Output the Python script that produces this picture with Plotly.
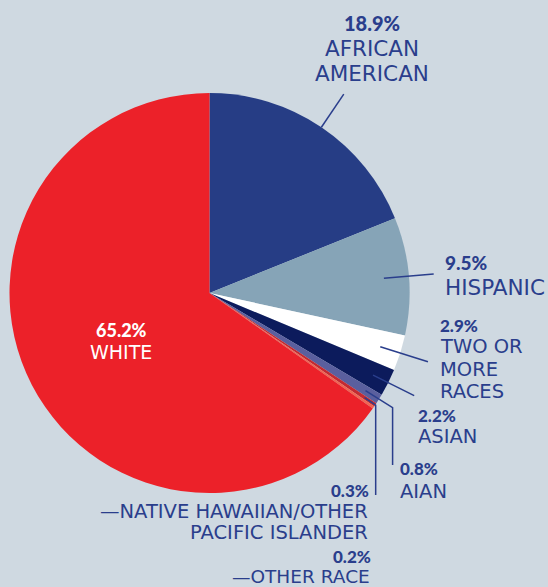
import math
import plotly.graph_objects as go

# --- data -------------------------------------------------------------
groups = ["AFRICAN AMERICAN", "HISPANIC", "TWO OR MORE RACES", "ASIAN", "AIAN",
          "NATIVE HAWAIIAN/OTHER PACIFIC ISLANDER", "OTHER RACE", "WHITE"]
shares = [18.9, 9.5, 2.9, 2.2, 0.8, 0.3, 0.2, 65.2]
slice_colors = ["#263d85", "#86a4b7", "#ffffff", "#0c1b5c", "#5a5f9e",
                "#c42a31", "#f26450", "#ec2129"]

W, H = 548, 587
BG = "#cfd9e1"
INK = "#2a3e8c"
NAME_FONT = "DejaVu Sans"
PCT_FONT = "Lato"

# pie geometry in pixels
CX, CY, R = 209.5, 293.0, 200.0

fig = go.Figure()
fig.add_trace(go.Pie(
    labels=groups, values=shares, sort=False, direction="clockwise", rotation=0,
    marker=dict(colors=slice_colors, line=dict(width=0)),
    textinfo="none", hoverinfo="label+percent", showlegend=False,
    domain=dict(x=[(CX - R) / W, (CX + R) / W],
                y=[(H - CY - R) / H, (H - CY + R) / H]),
))

# mid angle of each slice, degrees clockwise from 12 o'clock
total = sum(shares)
mid_angles = []
acc = 0.0
for v in shares:
    mid_angles.append((acc + v / 2) / total * 360)
    acc += v


def polar(angle, r):
    a = math.radians(angle)
    return CX + r * math.sin(a), CY - r * math.cos(a)


# leader lines: (slice index, inner radius, outer radius, vertical drop to y)
leaders = [
    (0, 200, 240, None),
    (1, 175, 225, None),
    (2, 179, 229, None),
    (3, 183, 229, None),
    (4, 184, 216, 465),
    (5, 187, 200.5, 495),
]
for idx, r_in, r_out, drop in leaders:
    x0, y0 = polar(mid_angles[idx], r_in)
    x1, y1 = polar(mid_angles[idx], r_out)
    path = f"M{x0},{y0} L{x1},{y1}"
    if drop is not None:
        path += f" L{x1},{drop}"
    fig.add_shape(type="path", path=path, xref="x", yref="y",
                  line=dict(color=INK, width=1.5))


def pct(i):
    return f"{shares[i]:.1f}%"


# label lines: (text, x, y of cap centre, anchor, size, bold, colour)
labels = [
    (pct(0), 371.5, 23, "center", 20, True, INK),
    ("AFRICAN", 371.5, 48.7, "center", 21.5, False, INK),
    ("AMERICAN", 371.5, 73.5, "center", 21.5, False, INK),
    (pct(1), 443, 262.5, "left", 19, True, INK),
    ("HISPANIC", 443, 287.5, "left", 21.5, False, INK),
    (pct(2), 438, 325.5, "left", 17, True, INK),
    ("TWO OR", 438, 346.5, "left", 19.5, False, INK),
    ("MORE", 438, 369.7, "left", 19.5, False, INK),
    ("RACES", 438, 391, "left", 19.5, False, INK),
    (pct(3), 416, 415, "left", 17, True, INK),
    ("ASIAN", 416, 436.7, "left", 19.5, False, INK),
    (pct(4), 398, 468.5, "left", 17, True, INK),
    ("AIAN", 398, 491.5, "left", 19.5, False, INK),
    (pct(5), 371, 490.5, "right", 17, True, INK),
    ("\u2014NATIVE HAWAIIAN/OTHER", 370, 511.2, "right", 19.5, False, INK),
    ("PACIFIC ISLANDER", 370, 532.5, "right", 19.5, False, INK),
    (pct(6), 372.5, 556, "right", 17, True, INK),
    ("\u2014OTHER RACE", 371.5, 576.5, "right", 18.5, False, INK),
    (pct(7), 121, 329.7, "center", 18, True, "#ffffff"),
    ("WHITE", 121, 351.7, "center", 19, False, "#ffffff"),
]
for text, x, y, anchor, size, bold, color in labels:
    fig.add_annotation(
        x=x, y=y, xref="x", yref="y", showarrow=False,
        text=text,
        xanchor=anchor, yanchor="middle",
        font=dict(family=PCT_FONT if bold else NAME_FONT, size=size, color=color,
                  weight=900 if bold else 400),
    )

fig.update_layout(
    width=W, height=H, margin=dict(l=0, r=0, t=0, b=0),
    paper_bgcolor=BG, plot_bgcolor="rgba(0,0,0,0)",
    xaxis=dict(range=[0, W], visible=False, fixedrange=True),
    yaxis=dict(range=[H, 0], visible=False, fixedrange=True),
)

fig.write_html("out.html")
